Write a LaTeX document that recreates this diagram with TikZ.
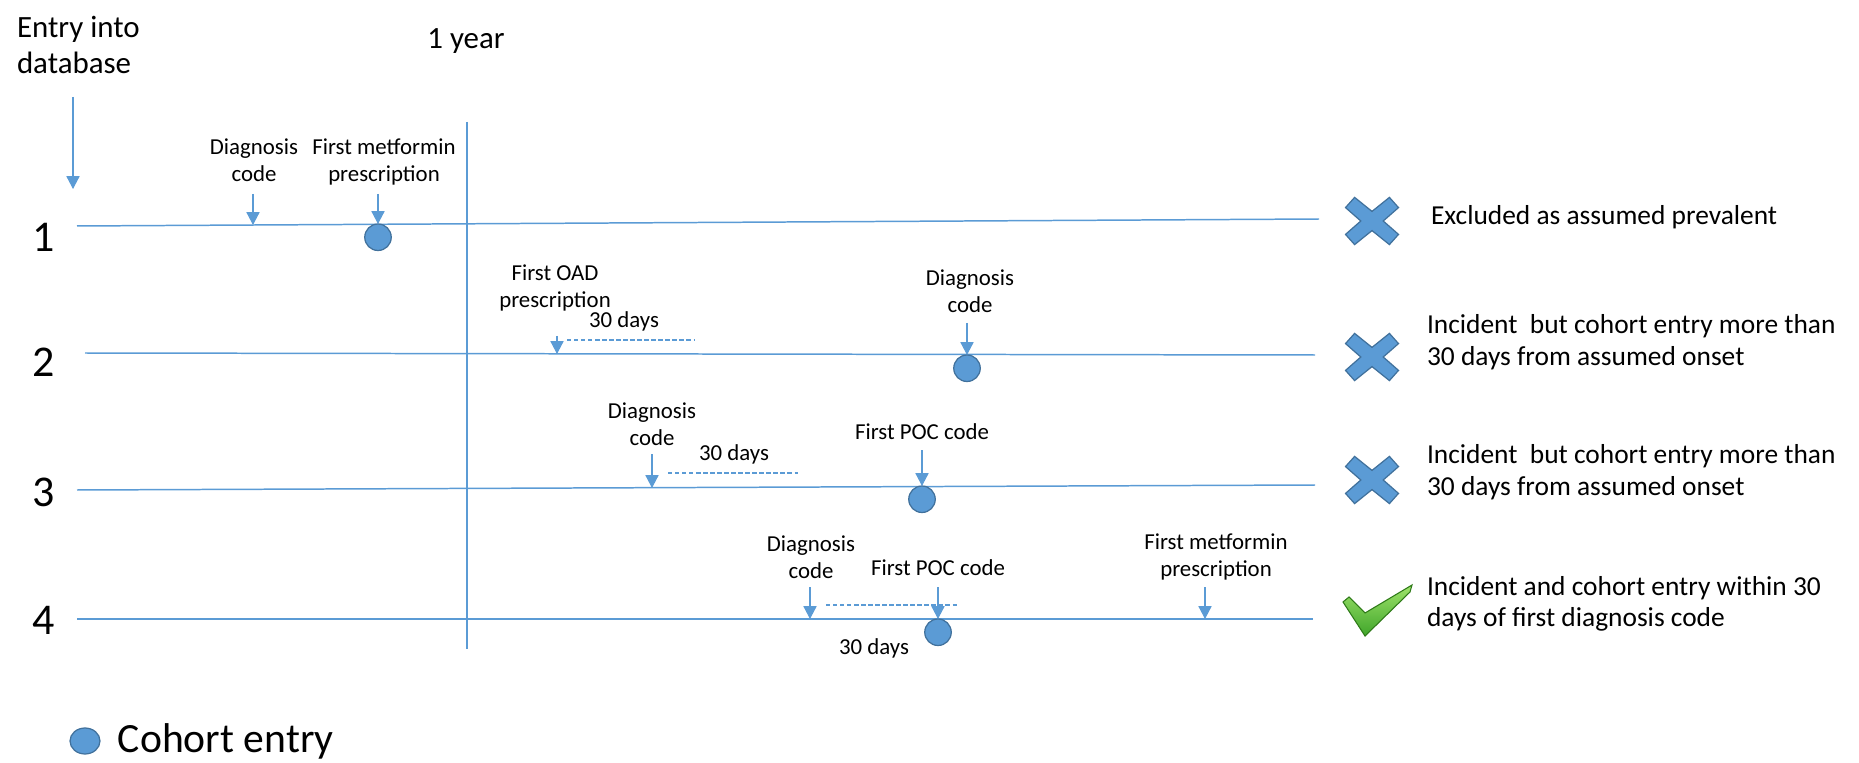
\documentclass[tikz,border=0pt]{standalone}
\usepackage{fontspec}
\setmainfont{Carlito}
\usepackage{xcolor}
\usetikzlibrary{arrows.meta,positioning,shapes.geometric}
\definecolor{lineblue}{HTML}{5B9BD5}
\definecolor{edgeblue}{HTML}{41719C}
\definecolor{tickdark}{HTML}{2E7A18}
\definecolor{ticklight}{HTML}{9EE36A}
\definecolor{tickmid}{HTML}{3FA52A}

\begin{document}
\begin{tikzpicture}[x=0.02cm,y=-0.02cm,every node/.style={inner sep=0pt,outer sep=0pt}]
\tikzstyle{timeline}=[lineblue,line width=0.85pt]
\tikzstyle{evarrow}=[lineblue,line width=0.6pt,-{Triangle[width=7.5pt,length=7.3pt]}]
\tikzstyle{gap}=[lineblue,line width=0.7pt,dash pattern=on 2.5pt off 1.5pt]
\tikzstyle{evtext}=[align=center,font=\fontsize{13pt}{15.2pt}\selectfont]
\tikzstyle{outcome}=[anchor=west,align=left,font=\fontsize{15.6pt}{18pt}\selectfont]
\tikzstyle{rownum}=[font=\fontsize{25pt}{30pt}\selectfont]
\tikzstyle{cohort}=[circle,fill=lineblue,draw=edgeblue,line width=0.7pt,minimum size=0.53cm]
\tikzstyle{xmark}=[fill=lineblue,draw=edgeblue,line width=0.7pt]
\useasboundingbox (0,0) rectangle (1859,763);
%
% header and one year mark
\node (entry) [anchor=west,align=left,font=\fontsize{17.6pt}{20pt}\selectfont] at (17,45) {Entry into\\database};
\node (year) [font=\fontsize{17.6pt}{20pt}\selectfont] at (466,41) {1 year};
\coordinate (start) at (73,189);
\draw [evarrow] (start) ++(0,-92) -- (start);
\draw [timeline] (467,122) -- (467,649);
%
% the four patients
\draw [timeline] (77,226) -- (1319,219);
\draw [timeline] (85,353) -- (1315,355);
\draw [timeline] (77,490) -- (1315,485);
\draw [timeline] (77,619) -- (1313,619);
\foreach \n/\y in {1/237,2/362,3/492,4/620}
  \node (row\n) [rownum] at (44,\y) {\n};
%
% patient 1
\coordinate (t1a) at (253,225);
\coordinate (t1b) at (378,224);
\node (d1) [evtext] at (254,160) {Diagnosis\\code};
\node (m1) [evtext] at (384,162) {First metformin\\prescription};
\node (c1) [cohort,anchor=north] at (t1b) {};
\draw [evarrow] (t1a) ++(0,-31) -- (t1a);
\draw [evarrow] (c1.north) ++(0,-30) -- (c1.north);
%
% patient 2
\coordinate (t2a) at (557,354);
\coordinate (t2b) at (967,355);
\node (o2) [evtext] at (555,288) {First OAD\\prescription};
\node (w2) [evtext] at (624,321) {30 days};
\node (d2) [evtext] at (970,291) {Diagnosis\\code};
\node (c2) [cohort,anchor=north] at (t2b) {};
\draw [gap] (567,340) -- (694,340);
\draw [evarrow] (t2a) ++(0,-18) -- (t2a);
\draw [evarrow] (c2.north) ++(0,-32) -- (c2.north);
%
% patient 3
\coordinate (t3a) at (652,488);
\coordinate (t3b) at (922,486);
\node (d3) [evtext] at (652,424) {Diagnosis\\code};
\node (w3) [evtext] at (734,454) {30 days};
\node (p3) [evtext] at (922,432) {First POC code};
\node (c3) [cohort,anchor=north] at (t3b) {};
\draw [gap] (668,473) -- (798,473);
\draw [evarrow] (t3a) ++(0,-34) -- (t3a);
\draw [evarrow] (c3.north) ++(0,-36) -- (c3.north);
%
% patient 4
\coordinate (t4a) at (810,619);
\coordinate (t4b) at (938,619);
\coordinate (t4c) at (1205,619);
\node (d4) [evtext] at (811,557) {Diagnosis\\code};
\node (p4) [evtext] at (938,568) {First POC code};
\node (m4) [evtext] at (1216,557) {First metformin\\prescription};
\node (w4) [evtext] at (874,648) {30 days};
\node (c4) [cohort,anchor=north] at (t4b) {};
\draw [gap] (826,605) -- (957,605);
\draw [evarrow] (t4a) ++(0,-32) -- (t4a);
\draw [evarrow] (c4.north) ++(0,-32) -- (c4.north);
\draw [evarrow] (t4c) ++(0,-32) -- (t4c);
%
% outcome marks
\foreach \y in {221,357,480}
{
\draw [xmark,shift={(1372,\y)}] (-26.5,-13.4) -- (-17.4,-23.6) -- (0,-9.6) -- (17.4,-23.6)
  -- (26.5,-13.4) -- (11.2,0) -- (26.5,13.4) -- (17.4,23.6) -- (0,9.6) -- (-17.4,23.6)
  -- (-26.5,13.4) -- (-11.2,0) -- cycle;
}
\shadedraw [draw=tickdark,line width=0.6pt,top color=ticklight,bottom color=tickmid]
  (1343,602) -- (1349,597) -- (1365,613) -- (1412,585) -- (1410,592) -- (1365,636) -- cycle;
\node (r1) [outcome] at (1431,217) {Excluded as assumed prevalent};
\node (r2) [outcome] at (1427,342) {Incident\ \ but cohort entry more than\\30 days from assumed onset};
\node (r3) [outcome] at (1427,472) {Incident\ \ but cohort entry more than\\30 days from assumed onset};
\node (r4) [outcome] at (1427,604) {Incident and cohort entry within 30\\days of first diagnosis code};
%
% key
\node (key) [cohort,ellipse,minimum width=0.6cm,minimum height=0.52cm] at (85,741) {};
\node (keytext) [right=0.36cm of key,font=\fontsize{23.7pt}{28pt}\selectfont] {Cohort entry};
\end{tikzpicture}
\end{document}
